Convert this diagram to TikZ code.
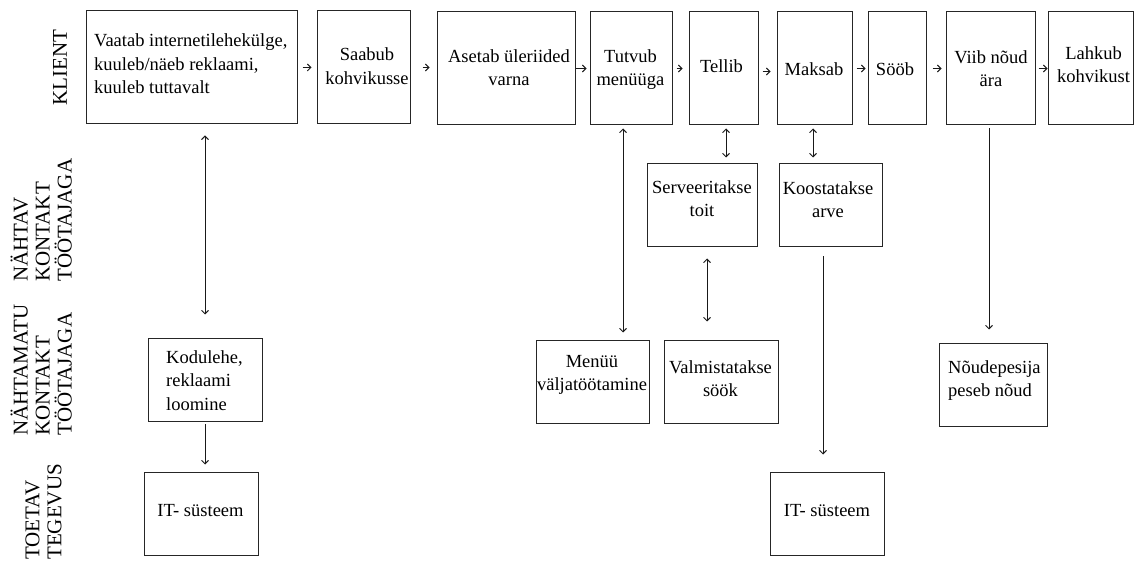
\documentclass[tikz,border=0pt]{standalone}
\usepackage{fontspec}
\setmainfont{Liberation Serif}
\usetikzlibrary{arrows.meta,calc}
\begin{document}
\begin{tikzpicture}[x=1pt,y=-1pt,
  box/.style={draw=black!85, line width=1pt, inner sep=0pt, minimum height=83pt},
  topbox/.style={box, minimum height=113pt},
  txt/.style={inner sep=0pt, align=center, font=\fontsize{18.5}{23.5}\selectfont},
  lane/.style={rotate=90, anchor=south west, inner sep=0pt, align=left,
               font=\fontsize{21}{22}\selectfont},
  conn/.style={draw=black!90, line width=0.9pt},
  arr/.style={conn, -{Straight Barb[length=3.5pt,width=7pt]}},
  dbl/.style={conn, {Straight Barb[length=3.5pt,width=7pt]}-{Straight Barb[length=3.5pt,width=7pt]}},
  seqarrow/.style={conn, -{Straight Barb[length=3.5pt,width=7pt]}}
]
\useasboundingbox (0,0) rectangle (1136,561);

% swim-lane headings
\node[lane] (klient) at (67,106) {KLIENT};
\node[lane] (nahtav) at (72,282) {NÄHTAV\\KONTAKT\\TÖÖTAJAGA};
\node[lane] (nahtamatu) at (72,436) {NÄHTAMATU\\KONTAKT\\TÖÖTAJAGA};
\node[lane] (toetav) at (62,560) {TOETAV\\TEGEVUS};

% customer actions
\node[topbox, minimum width=211pt] (vaatab) at (191.5,67.5) {};
\node[topbox, minimum width=93pt]  (saabub) at (363.5,67.5) {};
\node[topbox, minimum width=138pt] (asetab) at (506,68.5) {};
\node[topbox, minimum width=82pt]  (tutvub) at (631,68.5) {};
\node[topbox, minimum width=69pt]  (tellib) at (723.5,68.5) {};
\node[topbox, minimum width=75pt]  (maksab) at (814.5,68.5) {};
\node[topbox, minimum width=58pt]  (soob)   at (897,68.5) {};
\node[topbox, minimum width=89pt]  (viib)   at (990.5,68.5) {};
\node[topbox, minimum width=85pt]  (lahkub) at (1090.5,68.5) {};

\node[txt, align=left, anchor=west] (vaatab-t) at (94,63.75)
  {Vaatab internetilehekülge,\\kuuleb/näeb reklaami,\\kuuleb tuttavalt};
\node[txt] (saabub-t) at (367,66.25) {Saabub\\kohvikusse};
\node[txt] (asetab-t) at (509,67.5) {Asetab üleriided\\varna};
\node[txt] (tutvub-t) at (630.5,69.5) {Tutvub\\menüüga};
\node[txt] (tellib-t) at (721.5,65.75) {Tellib};
\node[txt] (maksab-t) at (814,68.75) {Maksab};
\node[txt] (soob-t)   at (895,68.75) {Sööb};
\node[txt] (viib-t)   at (991,68.5) {Viib nõud\\ära};
\node[txt] (lahkub-t) at (1093.5,64.5) {Lahkub\\kohvikust};

% visible contact
\node[box, minimum width=110pt] (serv)  at (702,205.5) {};
\node[box, minimum width=103pt] (koost) at (830.5,205.5) {};
\node[txt] (serv-t)  at (702,198.5) {Serveeritakse\\toit};
\node[txt] (koost-t) at (828,199.5) {Koostatakse\\arve};

% invisible contact
\node[box, minimum width=114pt] (kodulehe) at (205,380.5) {};
\node[box, minimum width=113pt] (menyy)    at (592.5,382.5) {};
\node[box, minimum width=114pt] (valm)     at (721,382.5) {};
\node[box, minimum width=108pt] (noud)     at (993,385.5) {};
\node[txt, align=left, anchor=west] (kodulehe-t) at (166,380.25) {Kodulehe,\\reklaami\\loomine};
\node[txt] (menyy-t) at (592,375) {Menüü\\väljatöötamine};
\node[txt] (valm-t)  at (720.5,378.5) {Valmistatakse\\söök};
\node[txt, align=left, anchor=west] (noud-t) at (948,380.75) {Nõudepesija\\peseb nõud};

% support processes
\node[box, minimum width=114pt] (itl) at (201,513.5) {};
\node[box, minimum width=114pt] (itr) at (827,513.5) {};
\node[txt] (itl-t) at (200.5,510.75) {IT- süsteem};
\node[txt] (itr-t) at (827,510.75) {IT- süsteem};

% sequence of customer actions
\draw[seqarrow, shorten <=5pt, shorten >=5pt] (vaatab.east) -- (saabub.west);
\draw[seqarrow, shorten <=12pt, shorten >=7pt] (saabub.east) -- (saabub.east -| asetab.west);
\draw[seqarrow, shorten >=3pt] (asetab.east) -- (tutvub.west);
\draw[seqarrow, shorten <=4pt, shorten >=6pt] (tutvub.east) -- (tellib.west);
\draw[seqarrow, shorten <=4pt, shorten >=6pt] ([yshift=-3pt]tellib.east) -- ([yshift=-3pt]maksab.west);
\draw[seqarrow, shorten <=4pt, shorten >=2pt] (maksab.east) -- (soob.west);
\draw[seqarrow, shorten <=6pt, shorten >=4pt] (soob.east) -- (viib.west);
\draw[seqarrow, shorten <=3pt] (viib.east) -- (lahkub.west);

% links between lanes
\draw[dbl, shorten <=11pt, shorten >=24pt] (vaatab.south -| kodulehe.north) -- (kodulehe.north);
\draw[arr, shorten <=2pt, shorten >=7pt] (kodulehe.south) -- (kodulehe.south |- itl.north);
\draw[dbl, shorten <=3pt, shorten >=8pt] ([xshift=-8pt]tutvub.south) -- ([xshift=-8pt]tutvub.south |- menyy.north);
\draw[dbl, shorten <=3pt, shorten >=6pt] ([xshift=2.5pt]tellib.south) -- ([xshift=2.5pt]tellib.south |- serv.north);
\draw[dbl, shorten <=3pt, shorten >=6pt] ([xshift=-1.5pt]maksab.south) -- ([xshift=-1.5pt]maksab.south |- koost.north);
\draw[dbl, shorten <=11pt, shorten >=19pt] ([xshift=5pt]serv.south) -- ([xshift=5pt]serv.south |- valm.north);
\draw[arr, shorten <=9pt, shorten >=17pt] ([xshift=-7.5pt]koost.south) -- ([xshift=-7.5pt]koost.south |- itr.north);
\draw[arr, shorten <=3pt, shorten >=14pt] ([xshift=-1.5pt]viib.south) -- ([xshift=-1.5pt]viib.south |- noud.north);
\end{tikzpicture}
\end{document}
